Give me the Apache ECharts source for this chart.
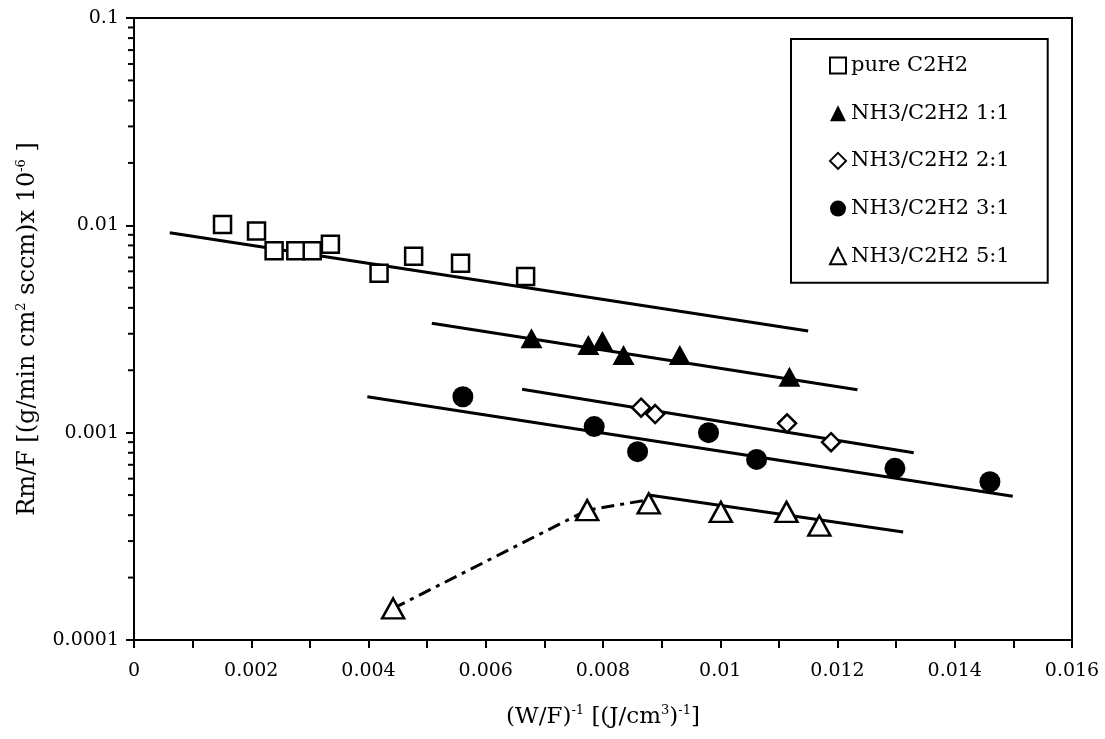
<!DOCTYPE html>
<html>
<head>
<meta charset="utf-8">
<script src="https://cdn.jsdelivr.net/npm/echarts@6/dist/echarts.min.js"></script>
<style>html,body{margin:0;padding:0;background:#fff}#c{width:1105px;height:739px}</style>
</head>
<body>
<div id="c"></div>
<script>
// ---- data ----
const pureX = [0.00151, 0.00209, 0.00239, 0.00276, 0.00304, 0.00335, 0.00418, 0.00477, 0.00557, 0.00668];
const pureY = [0.0101, 0.0094, 0.00754, 0.00754, 0.00754, 0.0081, 0.00587, 0.0071, 0.00656, 0.00567];
const r11X = [0.00678, 0.00775, 0.00799, 0.00835, 0.00931, 0.01118];
const r11Y = [0.00285, 0.00265, 0.00277, 0.00237, 0.00237, 0.00186];
const r21X = [0.00865, 0.00889, 0.01114, 0.01189];
const r21Y = [0.00132, 0.00123, 0.00111, 0.00090];
const r31X = [0.00561, 0.00785, 0.00859, 0.0098, 0.01062, 0.01298, 0.0146];
const r31Y = [0.00149, 0.00107, 0.00081, 0.00100, 0.000743, 0.000673, 0.00058];
const r51X = [0.00442, 0.00773, 0.00878, 0.01001, 0.01113, 0.01169];
const r51Y = [0.000142, 0.000423, 0.000456, 0.000415, 0.000415, 0.000356];

// trend lines (end points)
const pureFitX = [0.00061, 0.0115];   const pureFitY = [0.0092, 0.00309];
const r11FitX = [0.00508, 0.01234];   const r11FitY = [0.00337, 0.00161];
const r21FitX = [0.00662, 0.0133];    const r21FitY = [0.00162, 0.00080];
const r31FitX = [0.00398, 0.01499];   const r31FitY = [0.00149, 0.000494];
const r51FitX = [0.00878, 0.01312];   const r51FitY = [0.00050, 0.000332];
const r51RiseX = [0.00442, 0.00773, 0.00878]; const r51RiseY = [0.000142, 0.000423, 0.000475];

const seriesNames = ['pure C2H2', 'NH3/C2H2 1:1', 'NH3/C2H2 2:1', 'NH3/C2H2 3:1', 'NH3/C2H2 5:1'];
const yTickValues = [0.0001, 0.001, 0.01, 0.1];
const yTickLabels = ['0.0001', '0.001', '0.01', '0.1'];
const xTickValues = [0, 0.002, 0.004, 0.006, 0.008, 0.01, 0.012, 0.014, 0.016];
const xTickLabels = ['0', '0.002', '0.004', '0.006', '0.008', '0.01', '0.012', '0.014', '0.016'];
const yMinorTicks = [];
[0.0001, 0.001, 0.01].forEach(d => { for (let k = 2; k <= 9; k++) yMinorTicks.push(+(d * k).toPrecision(3)); });

const zip = (xs, ys) => xs.map((x, i) => [x, ys[i]]);
const FONT = 'DejaVu Serif';

function scatter(name, xs, ys, symbol, size, fill, bw) {
  return {
    name, type: 'scatter', data: zip(xs, ys), symbol, symbolSize: size, z: 5,
    itemStyle: { color: fill, borderColor: '#000', borderWidth: bw, opacity: 1 },
    emphasis: { disabled: true }
  };
}
function fit(xs, ys, dash) {
  return {
    type: 'line', data: zip(xs, ys), symbol: 'none', z: 2, silent: true,
    lineStyle: { color: '#000', width: 3, type: dash || 'solid' }
  };
}
const supRich = { s: { fontSize: 13, verticalAlign: 'top', padding: [0, 0, 13, 0], fontFamily: FONT } };

const chart = echarts.init(document.getElementById('c'), null, { renderer: 'canvas' });
chart.setOption({
  animation: false,
  backgroundColor: '#fff',
  grid: { left: 134, right: 33, top: 18, bottom: 99, show: true, borderColor: '#000', borderWidth: 2, backgroundColor: 'transparent' },
  legend: {
    data: seriesNames,
    orient: 'vertical',
    left: 791, top: 39,
    padding: [16, 38, 16, 38],
    itemWidth: 16, itemHeight: 16, itemGap: 26.7, itemTextGap: 6,
    borderColor: '#000', borderWidth: 2, backgroundColor: '#fff',
    textStyle: { fontFamily: FONT, fontSize: 21, color: '#000', lineHeight: 20 },
    selectedMode: false
  },
  xAxis: {
    type: 'value', min: 0, max: 0.016, interval: 0.002,
    name: '(W/F){s|-1} [(J/cm{s|3}){s|-1}]',
    nameLocation: 'middle', nameGap: 64,
    nameTextStyle: { fontFamily: FONT, fontSize: 23, color: '#000', rich: supRich },
    axisLine: { show: true, lineStyle: { color: '#000', width: 2 } },
    axisTick: { show: true, length: 8, lineStyle: { color: '#000', width: 2 } },
    minorTick: { show: true, splitNumber: 2, length: 8, lineStyle: { color: '#000', width: 2 } },
    splitLine: { show: false },
    axisLabel: {
      margin: 22, fontFamily: FONT, fontSize: 19, color: '#000',
      formatter: v => { const i = xTickValues.findIndex(t => Math.abs(t - v) < 1e-9); return i >= 0 ? xTickLabels[i] : ''; }
    }
  },
  yAxis: {
    type: 'log', logBase: 10, min: 0.0001, max: 0.1,
    name: 'Rm/F [(g/min cm{s|2} sccm)x 10{s|-6} ]',
    nameLocation: 'middle', nameGap: 93, nameRotate: 90,
    nameTextStyle: { fontFamily: FONT, fontSize: 24, color: '#000', rich: supRich },
    axisLine: { show: true, lineStyle: { color: '#000', width: 2 } },
    axisTick: { show: true, length: 8, lineStyle: { color: '#000', width: 2 } },
    splitLine: { show: false },
    axisLabel: {
      margin: 15, fontFamily: FONT, fontSize: 19, color: '#000',
      formatter: v => { const i = yTickValues.findIndex(t => Math.abs(Math.log10(t) - Math.log10(v)) < 1e-6); return i >= 0 ? yTickLabels[i] : ''; }
    }
  },
  series: [
    fit(pureFitX, pureFitY),
    fit(r11FitX, r11FitY),
    fit(r21FitX, r21FitY),
    fit(r31FitX, r31FitY),
    fit(r51FitX, r51FitY),
    fit(r51RiseX, r51RiseY, [13, 6, 4, 6]),
    scatter(seriesNames[0], pureX, pureY, 'rect', 17, '#fff', 2.5),
    scatter(seriesNames[1], r11X, r11Y, 'triangle', [22, 20], '#000', 0),
    scatter(seriesNames[2], r21X, r21Y, 'diamond', [18, 18], '#fff', 2.5),
    scatter(seriesNames[3], r31X, r31Y, 'circle', 21, '#000', 0),
    scatter(seriesNames[4], r51X, r51Y, 'triangle', [22, 20], '#fff', 2.5),
    {
      type: 'custom', silent: true, clip: false, z: 3,
      coordinateSystem: 'cartesian2d',
      data: yMinorTicks.map(v => [0, v]),
      renderItem: (params, api) => {
        const p = api.coord([api.value(0), api.value(1)]);
        return { type: 'line', shape: { x1: p[0] - 6, y1: p[1], x2: p[0], y2: p[1] }, style: { stroke: '#000', lineWidth: 2 } };
      }
    }
  ]
});
</script>
</body>
</html>
